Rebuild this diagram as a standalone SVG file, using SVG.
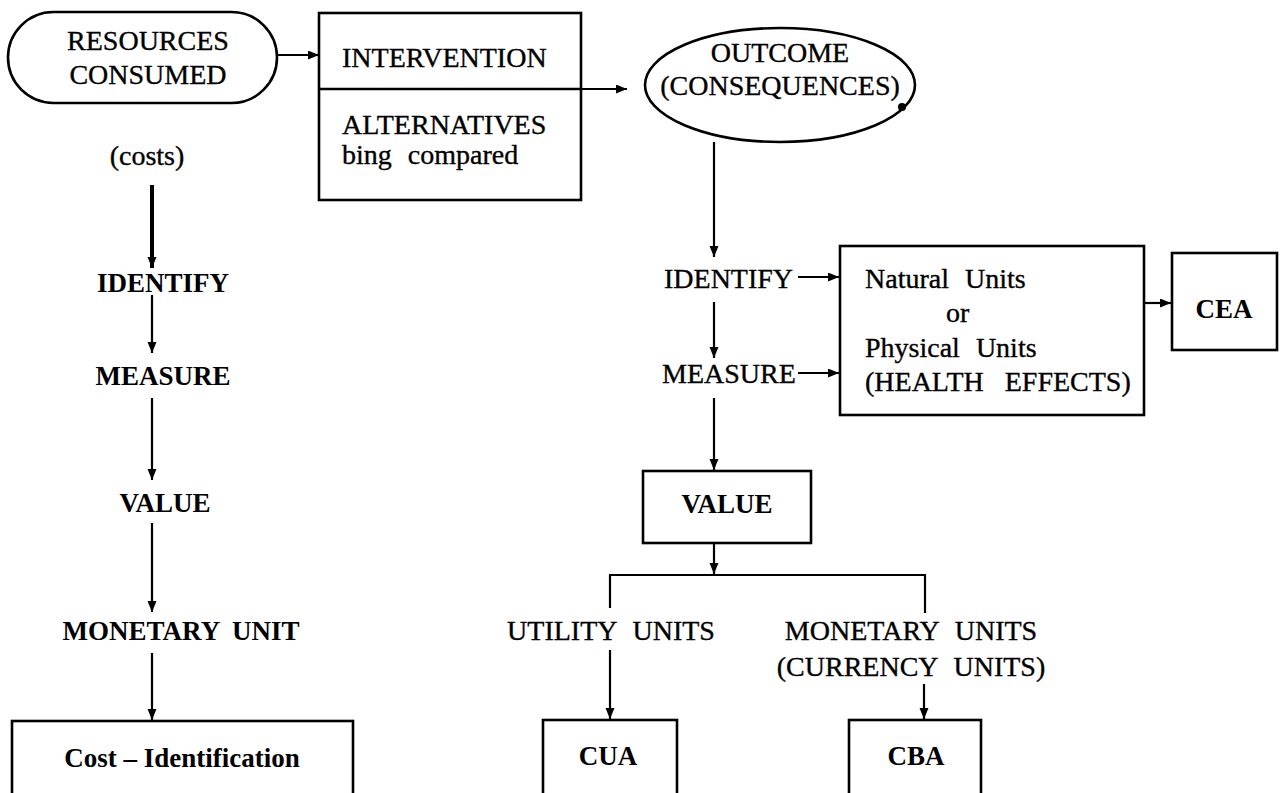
<svg xmlns="http://www.w3.org/2000/svg" width="1287" height="793" viewBox="0 0 1287 793">
<defs>
<marker id="ah" markerWidth="12" markerHeight="10" refX="11" refY="4.5" orient="auto" markerUnits="userSpaceOnUse">
<path d="M0,0 L11,4.5 L0,9 Z" fill="#000"/>
</marker>
<style>
.bx{fill:none;stroke:#000;stroke-width:2.6}
.ln{fill:none;stroke:#000;stroke-width:2.2}
.ar{fill:none;stroke:#000;stroke-width:2.2;marker-end:url(#ah)}
.t{font-family:"Liberation Serif","Times New Roman",serif;font-size:28px;fill:#000;stroke:#000;stroke-width:0.35;word-spacing:9px}
.b{font-family:"Liberation Serif","Times New Roman",serif;font-size:27px;font-weight:bold;fill:#000;word-spacing:6px}
.m{text-anchor:middle}
</style>
</defs>
<rect width="1287" height="793" fill="#fff"/>

<g id="resources">
<rect class="bx" x="8" y="12" width="269" height="91" rx="45.5"/>
<text class="t m" x="148" y="50">RESOURCES</text>
<text class="t m" x="148" y="84">CONSUMED</text>
</g>

<g id="costs-label"><text class="t m" x="147" y="165">(costs)</text></g>

<g id="intervention">
<rect class="bx" x="319" y="13" width="262" height="187"/>
<line class="bx" x1="319" y1="89" x2="581" y2="89"/>
<text class="t" x="342" y="67">INTERVENTION</text>
<text class="t" x="342" y="134">ALTERNATIVES</text>
<text class="t" x="342" y="164">bing compared</text>
</g>

<g id="outcome">
<ellipse class="bx" cx="780" cy="85" rx="135" ry="57"/>
<circle cx="902" cy="107" r="4" fill="#000"/>
<text class="t m" x="780" y="62">OUTCOME</text>
<text class="t m" x="780" y="95">(CONSEQUENCES)</text>
</g>

<g id="left-identify"><text class="b m" x="163" y="292">IDENTIFY</text></g>
<g id="left-measure"><text class="b m" x="163" y="385">MEASURE</text></g>
<g id="left-value"><text class="b m" x="165" y="512">VALUE</text></g>
<g id="left-monetary"><text class="b m" x="181" y="640">MONETARY UNIT</text></g>
<g id="cost-identification">
<rect class="bx" x="12" y="721" width="341" height="90"/>
<text class="b m" x="182" y="767" style="word-spacing:0">Cost – Identification</text>
</g>

<g id="right-identify"><text class="t" x="664" y="288">IDENTIFY</text></g>
<g id="right-measure"><text class="t" x="662" y="383">MEASURE</text></g>

<g id="natural-units">
<rect class="bx" x="840" y="246" width="304" height="169"/>
<text class="t" x="865" y="288">Natural Units</text>
<text class="t" x="946" y="322">or</text>
<text class="t" x="865" y="357">Physical Units</text>
<text class="t" x="865" y="391" style="word-spacing:14px">(HEALTH EFFECTS)</text>
</g>

<g id="cea">
<rect class="bx" x="1172" y="253" width="105" height="97"/>
<text class="b m" x="1224" y="318">CEA</text>
</g>

<g id="right-value">
<rect class="bx" x="643" y="471" width="168" height="72"/>
<text class="b m" x="727" y="513">VALUE</text>
</g>

<g id="utility-units"><text class="t m" x="611" y="640">UTILITY UNITS</text></g>
<g id="monetary-units">
<text class="t m" x="911" y="640">MONETARY UNITS</text>
<text class="t m" x="911" y="676">(CURRENCY UNITS)</text>
</g>

<g id="cua">
<rect class="bx" x="543" y="720" width="134" height="90"/>
<text class="b m" x="608" y="765">CUA</text>
</g>
<g id="cba">
<rect class="bx" x="849" y="720" width="132" height="90"/>
<text class="b m" x="916" y="765">CBA</text>
</g>

<g id="connectors">
<line class="ar" x1="277" y1="55" x2="319" y2="55"/>
<line class="ar" x1="581" y1="89" x2="627" y2="89"/>
<line class="ar" x1="152" y1="185" x2="152" y2="268" style="stroke-width:4"/>
<line class="ar" x1="152" y1="295" x2="152" y2="353"/>
<line class="ar" x1="152" y1="398" x2="152" y2="480"/>
<line class="ar" x1="152" y1="523" x2="152" y2="612"/>
<line class="ar" x1="152" y1="653" x2="152" y2="720"/>
<line class="ar" x1="714" y1="142" x2="714" y2="257"/>
<line class="ar" x1="714" y1="302" x2="714" y2="358"/>
<line class="ar" x1="714" y1="398" x2="714" y2="470"/>
<line class="ar" x1="798" y1="277" x2="839" y2="277"/>
<line class="ar" x1="798" y1="373" x2="839" y2="373"/>
<line class="ar" x1="1144" y1="303" x2="1171" y2="303"/>
<line class="ar" x1="714" y1="543" x2="714" y2="574"/>
<polyline class="ln" points="610,608 610,575 925,575 925,613"/>
<line class="ar" x1="610" y1="650" x2="610" y2="719"/>
<line class="ar" x1="924" y1="684" x2="924" y2="719"/>
</g>
</svg>
